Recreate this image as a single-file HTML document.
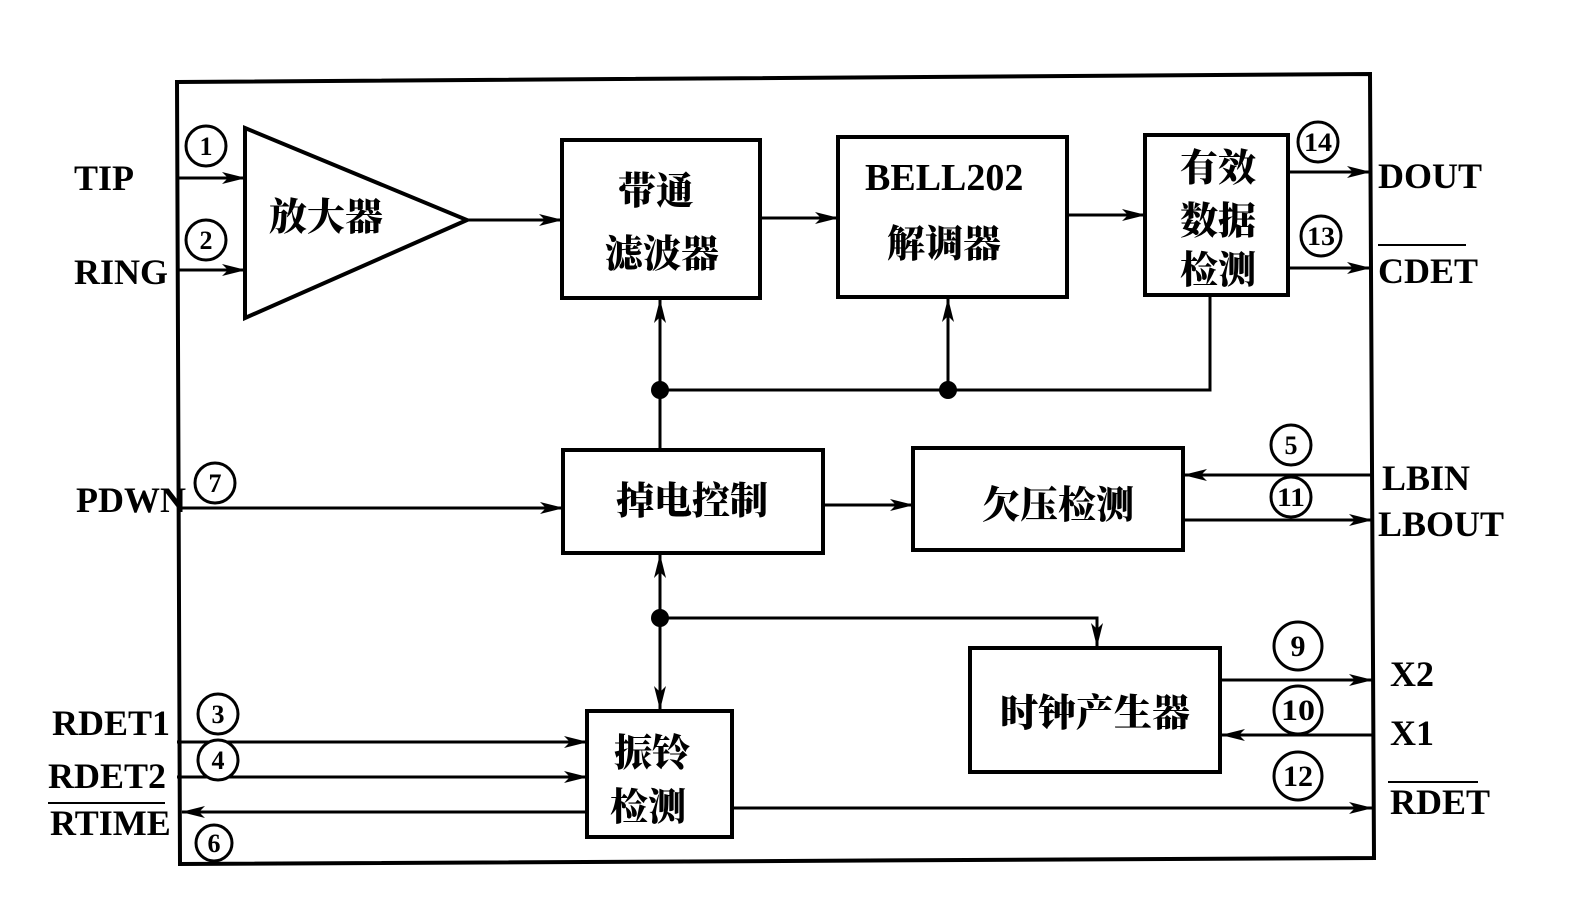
<!DOCTYPE html>
<html><head><meta charset="utf-8"><style>
html,body{margin:0;padding:0;background:#fff;}
svg{display:block;}
text{font-family:"Liberation Serif","Noto Serif CJK SC","Noto Sans CJK SC",serif;font-weight:900;fill:#000;}
</style></head><body>
<svg width="1589" height="918" viewBox="0 0 1589 918" xmlns="http://www.w3.org/2000/svg">
<defs>
<marker id="a" markerWidth="24" markerHeight="14" refX="23" refY="7" orient="auto" markerUnits="userSpaceOnUse" viewBox="0 0 24 14">
<path d="M0,1 L24,7 L0,13 L6,7 Z" fill="#000"/></marker>
</defs>
<g stroke="#000" stroke-width="4" fill="none">
<polygon points="177,82 1370,74 1374,858 180,864" stroke-width="4"/>
<polygon points="245,128 467,220 245,318"/>
<rect x="562" y="140" width="198" height="158"/>
<rect x="838" y="137" width="229" height="160"/>
<rect x="1145" y="135" width="143" height="160"/>
<rect x="563" y="450" width="260" height="103"/>
<rect x="913" y="448" width="270" height="102"/>
<rect x="970" y="648" width="250" height="124"/>
<rect x="587" y="711" width="145" height="126"/>
</g>
<g stroke="#000" stroke-width="3" fill="none">
<line x1="177" y1="178" x2="245" y2="178" marker-end="url(#a)"/>
<line x1="177" y1="270" x2="245" y2="270" marker-end="url(#a)"/>
<line x1="467" y1="220" x2="562" y2="220" marker-end="url(#a)"/>
<line x1="760" y1="218" x2="838" y2="218" marker-end="url(#a)"/>
<line x1="1067" y1="215" x2="1145" y2="215" marker-end="url(#a)"/>
<line x1="1288" y1="172" x2="1370" y2="172" marker-end="url(#a)"/>
<line x1="1288" y1="268" x2="1370" y2="268" marker-end="url(#a)"/>
<polyline points="1210,295 1210,390 660,390"/>
<line x1="660" y1="450" x2="660" y2="300" marker-end="url(#a)"/>
<line x1="948" y1="390" x2="948" y2="299" marker-end="url(#a)"/>
<line x1="177" y1="508" x2="563" y2="508" marker-end="url(#a)"/>
<line x1="823" y1="505" x2="913" y2="505" marker-end="url(#a)"/>
<line x1="1372" y1="475" x2="1184" y2="475" marker-end="url(#a)"/>
<line x1="1183" y1="520" x2="1372" y2="520" marker-end="url(#a)"/>
<line x1="660" y1="618" x2="660" y2="555" marker-end="url(#a)"/>
<line x1="660" y1="618" x2="660" y2="709" marker-end="url(#a)"/>
<polyline points="660,618 1097,618 1097,646" marker-end="url(#a)"/>
<line x1="1220" y1="680" x2="1372" y2="680" marker-end="url(#a)"/>
<line x1="1372" y1="735" x2="1222" y2="735" marker-end="url(#a)"/>
<line x1="732" y1="808" x2="1372" y2="808" marker-end="url(#a)"/>
<line x1="177" y1="742" x2="587" y2="742" marker-end="url(#a)"/>
<line x1="177" y1="777" x2="587" y2="777" marker-end="url(#a)"/>
<line x1="587" y1="812" x2="182" y2="812" marker-end="url(#a)"/>
<line x1="48" y1="803" x2="165" y2="803" stroke-width="2"/>
<line x1="1378" y1="245" x2="1466" y2="245" stroke-width="2"/>
<line x1="1388" y1="782" x2="1478" y2="782" stroke-width="2"/>
</g>
<g fill="#000">
<circle cx="660" cy="390" r="9"/><circle cx="948" cy="390" r="9"/><circle cx="660" cy="618" r="9"/>
</g>
<g stroke="#000" stroke-width="3" fill="#fff">
<circle cx="206" cy="146" r="20"/><circle cx="206" cy="240" r="20"/>
<circle cx="215" cy="483" r="20"/><circle cx="218" cy="714" r="20"/>
<circle cx="218" cy="760" r="20"/><circle cx="214" cy="843" r="18"/>
<circle cx="1318" cy="142" r="20"/><circle cx="1321" cy="236" r="20"/>
<circle cx="1291" cy="445" r="20"/><circle cx="1291" cy="497" r="20"/>
<circle cx="1298" cy="646" r="24"/><circle cx="1298" cy="710" r="24"/>
<circle cx="1298" cy="776" r="24"/>
</g>
<g font-size="26" text-anchor="middle">
<text x="206" y="155">1</text><text x="206" y="249">2</text>
<text x="215" y="492">7</text><text x="218" y="723">3</text>
<text x="218" y="769">4</text><text x="214" y="852">6</text>
<text x="1318" y="151" textLength="28" lengthAdjust="spacingAndGlyphs">14</text><text x="1321" y="245" textLength="28" lengthAdjust="spacingAndGlyphs">13</text>
<text x="1291" y="454">5</text><text x="1291" y="506" textLength="28" lengthAdjust="spacingAndGlyphs">11</text>
<text x="1298" y="656" font-size="30">9</text><text x="1298" y="720" font-size="30" textLength="34" lengthAdjust="spacingAndGlyphs">10</text>
<text x="1298" y="786" font-size="30">12</text>
</g>
<g font-size="36">
<text x="74" y="190">TIP</text><text x="74" y="284">RING</text>
<text x="76" y="512">PDWN</text>
<text x="52" y="735">RDET1</text><text x="48" y="788">RDET2</text><text x="50" y="835">RTIME</text>
<text x="1378" y="188">DOUT</text><text x="1378" y="283">CDET</text>
<text x="1382" y="490">LBIN</text><text x="1378" y="536">LBOUT</text>
<text x="1390" y="686">X2</text><text x="1390" y="745">X1</text><text x="1390" y="814">RDET</text>
<text x="865" y="190" font-size="38">BELL202</text>
</g>
<g font-size="38" text-anchor="middle">
<text x="326" y="230">放大器</text>
<text x="656" y="204">带通</text><text x="662" y="267">滤波器</text>
<text x="944" y="257">解调器</text>
<text x="1218" y="181">有效</text><text x="1218" y="234">数据</text><text x="1218" y="283">检测</text>
<text x="692" y="514">掉电控制</text>
<text x="1058" y="518">欠压检测</text>
<text x="1095" y="726">时钟产生器</text>
<text x="652" y="766">振铃</text><text x="648" y="820">检测</text>
</g>
</svg>
</body></html>
